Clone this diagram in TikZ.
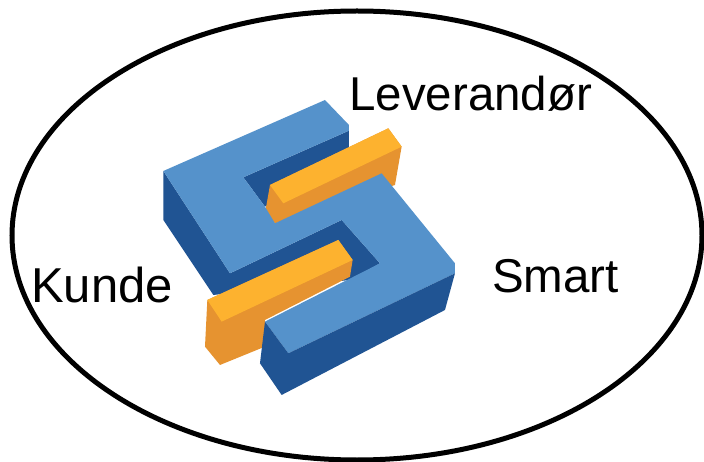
\documentclass[tikz,border=0pt]{standalone}
\usepackage{fontspec}
\setmainfont{Liberation Sans}
\definecolor{lblue}{HTML}{5592CB}
\definecolor{dblue}{HTML}{205493}
\definecolor{lorange}{HTML}{FDB22F}
\definecolor{dorange}{HTML}{E69330}
\tikzset{
  lbl/.style={font=\fontsize{47.5}{52}\selectfont,text=black,inner sep=0pt,anchor=base west}
}
\begin{document}
\begin{tikzpicture}[x=1pt,y=-1pt]
\useasboundingbox (0,0) rectangle (704,462);
\fill[white] (0,0) rectangle (704,462);
\draw[line width=5pt,black] (357,235.5) ellipse [x radius=345,y radius=224.5];
\begin{scope}[shift={(150,90)},x=1pt,y=-1pt,scale=0.3333]
% dark blue body
\fill[dblue] (40,243)--(40,390)--(190,615)--(600,570)--(690,520)--(575,390)--(240,550)--cycle;
\fill[dblue] (597,122)--(597,195)--(345,350)--(280,262)--cycle;
% orange bars
\fill[dorange] (360,285)--(345,370)--(375,400)--(735,285)--(755,170)--(715,115)--cycle;
\fill[lorange] (360,285)--(715,115)--(755,170)--(400,340)--cycle;
\fill[dorange] (172,630)--(165,770)--(210,825)--(345,770)--(345,690)--(600,560)--(608,510)--(565,450)--cycle;
\fill[lorange] (172,630)--(565,450)--(608,510)--(215,695)--cycle;
% light blue top
\fill[lblue] (40,243)--(525,30)--(597,105)--(597,122)--(280,262)--(345,350)--(375,400)--(695,250)--(915,520)--(915,550)--(415,790)--(345,695)--(690,520)--(575,390)--(240,550)--cycle;
% dark blue front
\fill[dblue] (915,550)--(885,660)--(395,915)--(330,820)--(345,695)--(415,790)--cycle;
\end{scope}
\node[lbl] (lev) at (349,111) {Leverandør};
\node[lbl,font=\fontsize{49}{54}\selectfont] (kun) at (31,303) {Kunde};
\node[lbl] (sma) at (492,293) {Smart};
\end{tikzpicture}
\end{document}
